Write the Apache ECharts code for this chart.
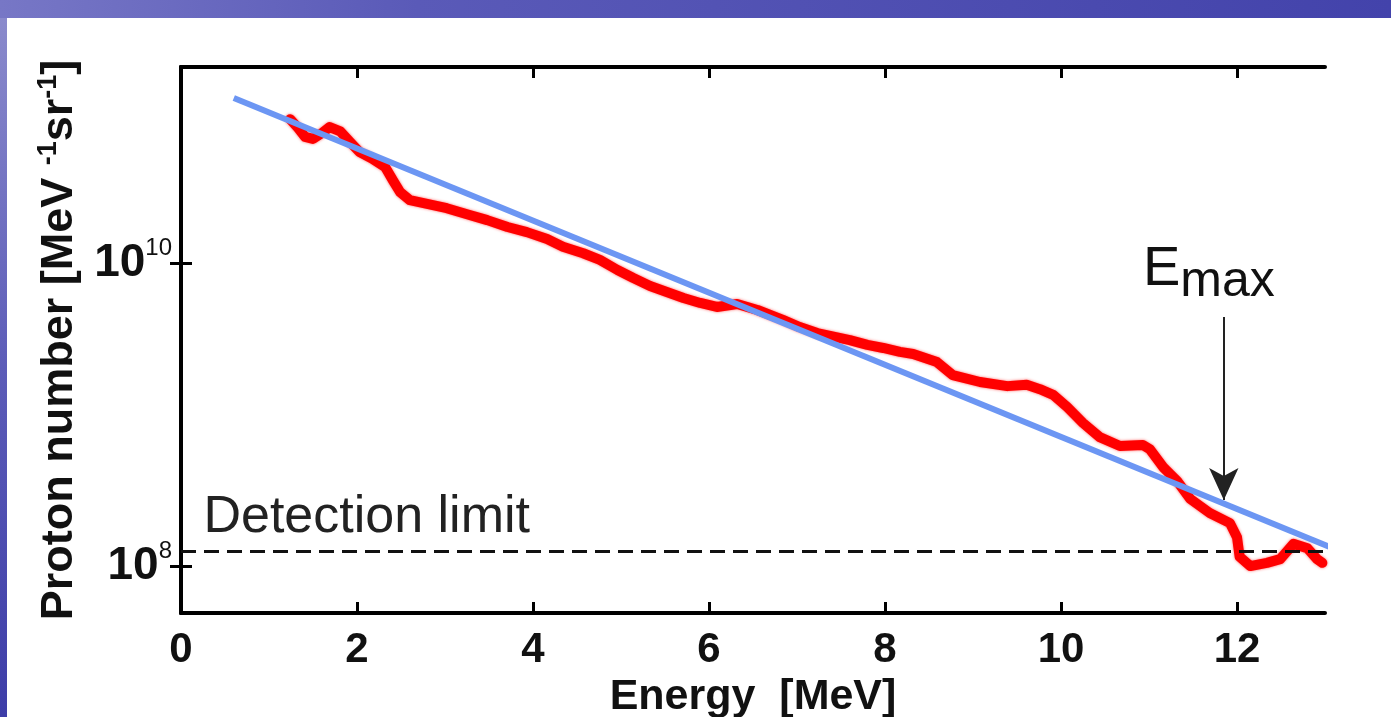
<!DOCTYPE html>
<html><head><meta charset="utf-8">
<script src="https://cdn.jsdelivr.net/npm/echarts@6/dist/echarts.min.js"></script>
<style>html,body{margin:0;padding:0;background:#fff;overflow:hidden}#c{width:1391px;height:717px}</style>
</head><body><div id="c"></div>
<script>
// Measured spectrum (energy in MeV, proton number per MeV per sr)
const energy = [1.24,1.33,1.41,1.50,1.60,1.69,1.81,1.92,2.03,2.17,2.32,2.41,2.49,2.60,2.81,3.02,3.25,3.48,3.71,3.93,4.16,4.34,4.57,4.76,4.96,5.14,5.33,5.52,5.71,5.90,6.09,6.32,6.55,6.84,7.03,7.23,7.60,7.80,7.98,8.17,8.32,8.59,8.77,9.08,9.39,9.61,9.76,9.91,10.07,10.25,10.44,10.67,10.93,11.01,11.16,11.32,11.47,11.69,11.92,12.00,12.03,12.15,12.34,12.49,12.64,12.80,12.91,12.97];
const protons = [8.9e10,7.8e10,6.8e10,6.6e10,7.2e10,7.9e10,7.4e10,6.3e10,5.4e10,4.9e10,4.3e10,3.5e10,2.94e10,2.6e10,2.45e10,2.3e10,2.1e10,1.92e10,1.73e10,1.6e10,1.44e10,1.28e10,1.16e10,1.05e10,9.0e9,7.96e9,7.05e9,6.44e9,5.88e9,5.45e9,5.13e9,5.36e9,4.9e9,4.21e9,3.78e9,3.45e9,3.1e9,2.88e9,2.75e9,2.59e9,2.51e9,2.22e9,1.82e9,1.64e9,1.54e9,1.57e9,1.47e9,1.35e9,1.12e9,8.8e8,7.1e8,6.2e8,6.3e8,5.9e8,4.5e8,3.64e8,2.77e8,2.24e8,1.92e8,1.55e8,1.15e8,1.0e8,1.05e8,1.11e8,1.4e8,1.31e8,1.11e8,1.05e8];
// Exponential fit line (blue)
const fitEnergy = [0.60, 13.14];
const fitProtons = [1.227e11, 1.276e8];
// Detection limit
const detectionLimit = 1.26e8;
// E_max arrow
const emaxEnergy = 11.85;
const emaxArrow = [4.4e9, 2.73e8];
// Tick labels
const xTicks = [0, 2, 4, 6, 8, 10, 12];
const yTicks = [1e8, 1e10];

const lg = v => Math.log10(v);
const spectrum = energy.map((e, i) => [e, lg(protons[i])]);
const fit = fitEnergy.map((e, i) => [e, lg(fitProtons[i])]);
const yTickLog = yTicks.map(lg);

const sans = "'Liberation Sans',Arial,Helvetica,sans-serif";

const chart = echarts.init(document.getElementById('c'), null, {renderer: 'canvas'});
const axisLine = {show: true, lineStyle: {color: '#000', width: 4}};
const tickStyle = {color: '#000', width: 3};

chart.setOption({
  backgroundColor: '#ffffff',
  animation: false,
  graphic: [
    {type: 'rect', left: 0, top: 0, shape: {width: 1391, height: 18}, z: 100,
      style: {fill: new echarts.graphic.LinearGradient(0, 0, 1, 0, [
        {offset: 0, color: '#7777c6'}, {offset: 0.3, color: '#5a5ab8'}, {offset: 1, color: '#4343ab'}])}},
    {type: 'rect', left: 0, top: 18, shape: {width: 7, height: 699}, z: 100,
      style: {fill: new echarts.graphic.LinearGradient(0, 0, 0, 1, [
        {offset: 0, color: '#8a8acc'}, {offset: 0.5, color: '#5c5cb8'}, {offset: 1, color: '#3d3da8'}])}}
  ],
  grid: {left: 181, right: 66, top: 67, bottom: 104, show: false, containLabel: false, outerBoundsMode: 'none'},
  xAxis: [
    {type: 'value', min: 0, max: 13, position: 'bottom',
      axisLine: axisLine,
      axisTick: {show: true, inside: true, length: 11, lineStyle: tickStyle, customValues: xTicks},
      axisLabel: {customValues: xTicks, fontSize: 42, fontWeight: 'bold', fontFamily: sans, color: '#111', margin: 16},
      splitLine: {show: false},
      name: 'Energy  [MeV]', nameLocation: 'middle', nameGap: 52,
      nameTextStyle: {fontSize: 43, fontWeight: 'bold', fontFamily: sans, color: '#111'}},
    {type: 'value', min: 0, max: 13, position: 'top',
      axisLine: axisLine,
      axisTick: {show: true, inside: true, length: 11, lineStyle: tickStyle, customValues: xTicks},
      axisLabel: {show: false}, splitLine: {show: false}}
  ],
  yAxis: [
    {type: 'value', min: 7.69, max: 11.294, position: 'left',
      axisLine: axisLine,
      axisTick: {show: true, inside: true, length: 11, lineStyle: tickStyle, customValues: yTickLog},
      axisLabel: {customValues: yTickLog, margin: 9,
        formatter: v => '{b|10}{s|' + Math.round(v) + '}',
        rich: {
          b: {fontSize: 46, fontWeight: 'bold', fontFamily: sans, color: '#111', lineHeight: 54},
          s: {fontSize: 24, fontFamily: sans, color: '#111', verticalAlign: 'top', lineHeight: 26}
        }},
      splitLine: {show: false},
      name: 'Proton number [MeV {p|-1}sr{p|-1}]', nameLocation: 'middle', nameGap: 97, nameRotate: 90,
      nameTextStyle: {fontSize: 45, fontWeight: 'bold', fontFamily: sans, color: '#111', lineHeight: 48,
        rich: {p: {fontSize: 27, fontWeight: 'bold', fontFamily: sans, color: '#111', verticalAlign: 'top', lineHeight: 28}}}},
    {type: 'value', min: 7.69, max: 11.294, position: 'right',
      axisLine: axisLine,
      axisTick: {show: true, inside: true, length: 11, lineStyle: tickStyle, customValues: yTickLog},
      axisLabel: {show: false}, splitLine: {show: false}}
  ],
  series: [
    {type: 'line', name: 'spectrum', data: spectrum, symbol: 'none', z: 3,
      lineStyle: {color: '#ff0000', width: 10, join: 'round', cap: 'round', shadowColor: 'rgba(255,0,0,0.6)', shadowBlur: 3},
      markLine: {
        silent: true, symbol: ['none', 'none'], animation: false,
        label: {show: false},
        lineStyle: {color: '#111', width: 3, type: [15, 8]},
        data: [{yAxis: lg(detectionLimit)}]
      },
      markPoint: {
        silent: true, symbol: 'circle', symbolSize: 1, itemStyle: {color: 'rgba(0,0,0,0)'},
        data: [
          {coord: [2.11, 8.32], label: {show: true, position: 'inside', formatter: 'Detection limit',
            fontSize: 52, fontFamily: sans, color: '#222'}},
          {coord: [11.68, 9.95], label: {show: true, position: 'inside', formatter: '{e|E}{m|max}',
            rich: {e: {fontSize: 56, fontFamily: sans, color: '#111', lineHeight: 58, verticalAlign: 'top'},
                   m: {fontSize: 50, fontFamily: sans, color: '#111', lineHeight: 58, padding: [24, 0, 0, 0]}}}}
        ]
      }
    },
    {type: 'line', name: 'arrow', data: [], symbol: 'none',
      markLine: {
        silent: true, symbol: ['none', 'arrow'], symbolSize: [22, 32], animation: false,
        label: {show: false},
        lineStyle: {color: '#222', width: 2, type: 'solid'},
        data: [[{coord: [emaxEnergy, lg(emaxArrow[0])]}, {coord: [emaxEnergy, lg(emaxArrow[1])]}]]
      }
    },
    {type: 'line', name: 'fit', data: fit, symbol: 'none', clip: false, z: 5,
      lineStyle: {color: '#6c96f3', width: 6}}
  ]
});
</script>
</body></html>
